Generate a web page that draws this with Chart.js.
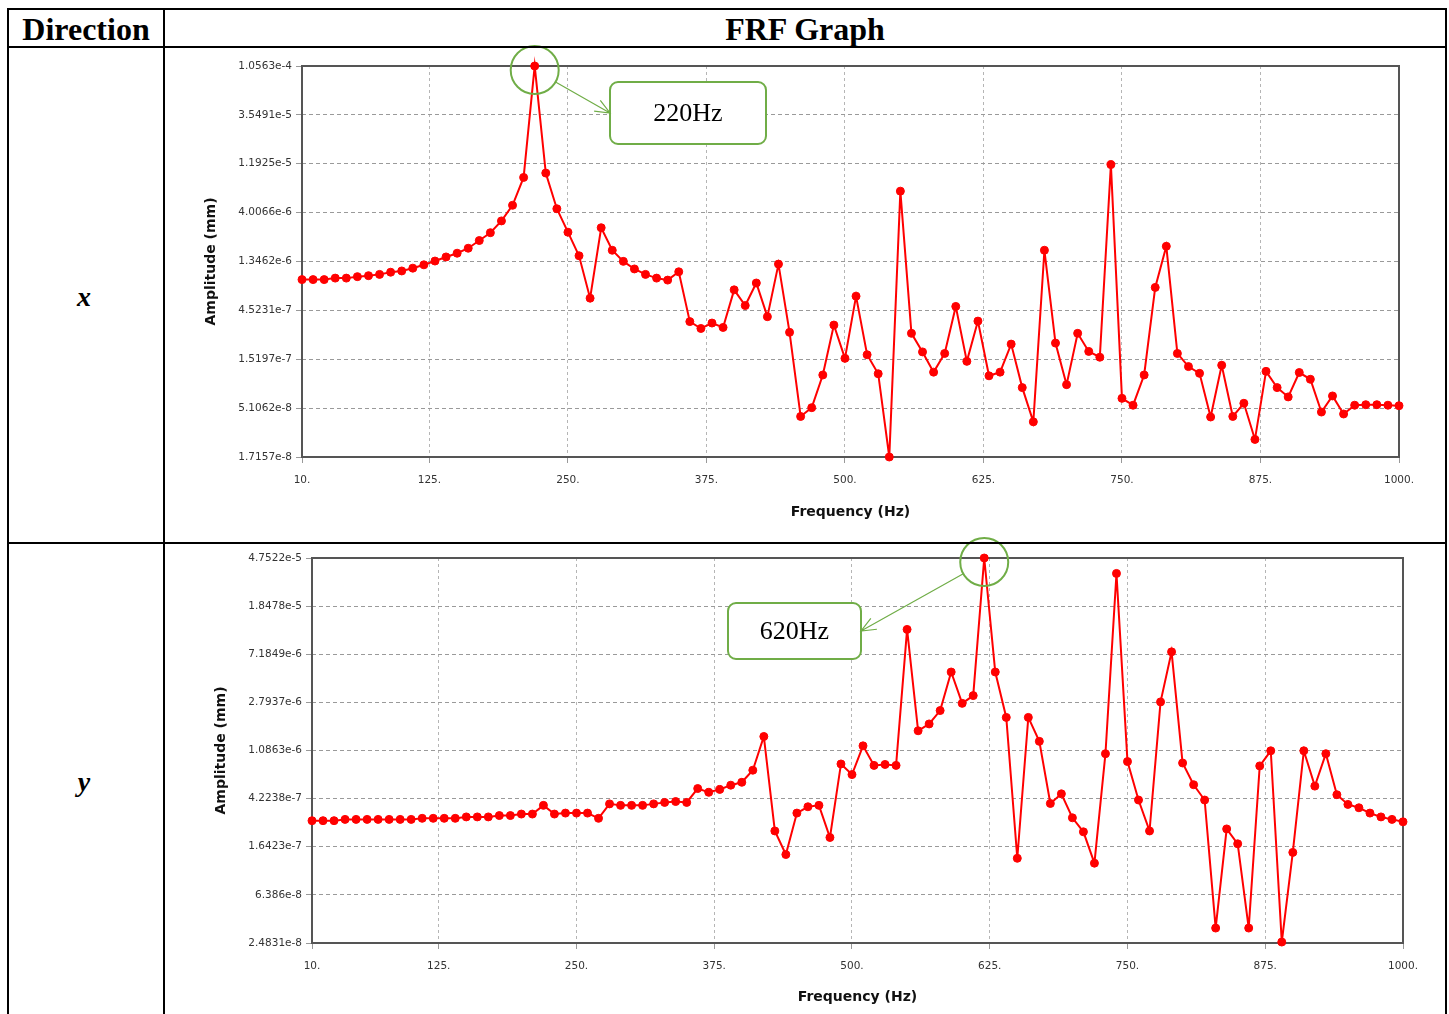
<!DOCTYPE html>
<html>
<head>
<meta charset="utf-8">
<title>FRF Graph</title>
<script src="https://cdn.jsdelivr.net/npm/chart.js@4.4.0/dist/chart.umd.min.js"></script>
<style>
  body { margin: 0; background: #fff; width: 1449px; height: 1014px; overflow: hidden; position: relative; font-family: "Liberation Serif", "Times New Roman", serif; }
  .line { position: absolute; background: #000; z-index: 2; }
  .hdr { position: absolute; top: 10px; height: 36px; line-height: 38px; font-weight: bold; font-size: 32px; text-align: center; }
  .dir { position: absolute; left: 7px; width: 154px; font-weight: bold; font-style: italic; font-size: 28px; text-align: center; line-height: 30px; }
  canvas { position: absolute; z-index: 1; }
</style>
</head>
<body>
<!-- table lines -->
<div class="line" style="left:7px;top:8px;width:1440px;height:2px"></div>
<div class="line" style="left:7px;top:46px;width:1440px;height:2px"></div>
<div class="line" style="left:7px;top:542px;width:1440px;height:2px"></div>
<div class="line" style="left:7px;top:8px;width:2px;height:1006px"></div>
<div class="line" style="left:163px;top:8px;width:2px;height:1006px"></div>
<div class="line" style="left:1445px;top:8px;width:2px;height:1006px"></div>

<div class="hdr" style="left:9px;width:154px">Direction</div>
<div class="hdr" style="left:165px;width:1280px">FRF Graph</div>
<div class="dir" style="top:282px">x</div>
<div class="dir" style="top:767px">y</div>

<canvas id="chartX" width="1279" height="501" style="left:166px;top:40px"></canvas>
<canvas id="chartY" width="1279" height="477" style="left:166px;top:537px"></canvas>

<script>
// frequency points (Hz)
const freq = [10, 20, 30, 40, 50, 60, 70, 80, 90, 100,
  110, 120, 130, 140, 150, 160, 170, 180, 190, 200,
  210, 220, 230, 240, 250, 260, 270, 280, 290, 300,
  310, 320, 330, 340, 350, 360, 370, 380, 390, 400,
  410, 420, 430, 440, 450, 460, 470, 480, 490, 500,
  510, 520, 530, 540, 550, 560, 570, 580, 590, 600,
  610, 620, 630, 640, 650, 660, 670, 680, 690, 700,
  710, 720, 730, 740, 750, 760, 770, 780, 790, 800,
  810, 820, 830, 840, 850, 860, 870, 880, 890, 900,
  910, 920, 930, 940, 950, 960, 970, 980, 990, 1000];

// amplitude (mm), x direction
const ampX = [8.99e-7, 8.99e-7, 8.99e-7, 9.29e-7, 9.29e-7, 9.60e-7, 9.81e-7, 1.01e-6, 1.06e-6, 1.09e-6,
  1.16e-6, 1.25e-6, 1.36e-6, 1.49e-6, 1.62e-6, 1.81e-6, 2.15e-6, 2.56e-6, 3.33e-6, 4.72e-6,
  8.79e-6, 1.0563e-4, 9.69e-6, 4.37e-6, 2.59e-6, 1.53e-6, 5.94e-7, 2.86e-6, 1.73e-6, 1.35e-6,
  1.14e-6, 1.01e-6, 9.29e-7, 8.89e-7, 1.07e-6, 3.52e-7, 3.02e-7, 3.41e-7, 3.09e-7, 7.15e-7,
  5.04e-7, 8.33e-7, 3.93e-7, 1.27e-6, 2.77e-7, 4.24e-8, 5.16e-8, 1.07e-7, 3.26e-7, 1.55e-7,
  6.21e-7, 1.68e-7, 1.10e-7, 1.7157e-8, 6.47e-6, 2.71e-7, 1.79e-7, 1.14e-7, 1.73e-7, 4.94e-7,
  1.45e-7, 3.56e-7, 1.05e-7, 1.14e-7, 2.13e-7, 8.07e-8, 3.76e-8, 1.73e-6, 2.18e-7, 8.62e-8,
  2.71e-7, 1.81e-7, 1.59e-7, 1.17e-5, 6.35e-8, 5.45e-8, 1.07e-7, 7.55e-7, 1.89e-6, 1.73e-7,
  1.29e-7, 1.11e-7, 4.19e-8, 1.33e-7, 4.24e-8, 5.69e-8, 2.54e-8, 1.16e-7, 8.07e-8, 6.56e-8,
  1.13e-7, 9.72e-8, 4.68e-8, 6.70e-8, 4.48e-8, 5.45e-8, 5.51e-8, 5.51e-8, 5.45e-8, 5.39e-8];

// amplitude (mm), y direction
const ampY = [2.74e-7, 2.74e-7, 2.74e-7, 2.81e-7, 2.81e-7, 2.81e-7, 2.81e-7, 2.81e-7, 2.81e-7, 2.81e-7,
  2.87e-7, 2.87e-7, 2.87e-7, 2.87e-7, 2.95e-7, 2.95e-7, 2.95e-7, 3.03e-7, 3.03e-7, 3.12e-7,
  3.12e-7, 3.70e-7, 3.12e-7, 3.18e-7, 3.18e-7, 3.18e-7, 2.87e-7, 3.81e-7, 3.70e-7, 3.70e-7,
  3.70e-7, 3.81e-7, 3.92e-7, 3.99e-7, 3.92e-7, 5.15e-7, 4.78e-7, 5.06e-7, 5.50e-7, 5.82e-7,
  7.38e-7, 1.43e-6, 2.24e-7, 1.41e-7, 3.18e-7, 3.60e-7, 3.70e-7, 1.97e-7, 8.34e-7, 6.77e-7,
  1.19e-6, 8.11e-7, 8.26e-7, 8.11e-7, 1.17e-5, 1.60e-6, 1.83e-6, 2.38e-6, 5.07e-6, 2.74e-6,
  3.19e-6, 4.7522e-5, 5.07e-6, 2.08e-6, 1.31e-7, 2.08e-6, 1.30e-6, 3.84e-7, 4.64e-7, 2.90e-7,
  2.20e-7, 1.19e-7, 1.02e-6, 3.51e-5, 8.74e-7, 4.11e-7, 2.24e-7, 2.82e-6, 7.53e-6, 8.50e-7,
  5.55e-7, 4.11e-7, 3.33e-8, 2.33e-7, 1.74e-7, 3.33e-8, 8.03e-7, 1.08e-6, 2.53e-8, 1.47e-7,
  1.08e-6, 5.40e-7, 1.02e-6, 4.56e-7, 3.77e-7, 3.53e-7, 3.18e-7, 2.95e-7, 2.81e-7, 2.68e-7];

const freqTicks = [10, 125, 250, 375, 500, 625, 750, 875, 1000];
const yTicksX = [1.7157e-8, 5.1062e-8, 1.5197e-7, 4.5231e-7, 1.3462e-6, 4.0066e-6, 1.1925e-5, 3.5491e-5, 1.0563e-4];
const yLabelsX = ['1.7157e-8', '5.1062e-8', '1.5197e-7', '4.5231e-7', '1.3462e-6', '4.0066e-6', '1.1925e-5', '3.5491e-5', '1.0563e-4'];
const yTicksY = [2.4831e-8, 6.386e-8, 1.6423e-7, 4.2238e-7, 1.0863e-6, 2.7937e-6, 7.1849e-6, 1.8478e-5, 4.7522e-5];
const yLabelsY = ['2.4831e-8', '6.386e-8', '1.6423e-7', '4.2238e-7', '1.0863e-6', '2.7937e-6', '7.1849e-6', '1.8478e-5', '4.7522e-5'];

const GREEN = '#70ad47';

// plot frame + the green callout (circle, arrow, label box)
const frfPlugin = {
  id: 'frf',
  beforeDatasetsDraw(chart) {
    const { ctx, chartArea: a } = chart;
    ctx.save();
    ctx.strokeStyle = '#555';
    ctx.lineWidth = 2;
    ctx.strokeRect(a.left, a.top, a.right - a.left, a.bottom - a.top);
    ctx.restore();
  },
  afterDraw(chart, args, opts) {
    if (!opts || !opts.box) return;
    const ctx = chart.ctx;
    const pt = chart.getDatasetMeta(0).data[opts.index];
    const cx = pt.x, cy = pt.y + 4, r = 24;
    const b = opts.box;
    ctx.save();
    ctx.strokeStyle = GREEN;
    ctx.lineWidth = 2;
    ctx.beginPath();
    ctx.arc(cx, cy, r, 0, Math.PI * 2);
    ctx.stroke();

    // rounded label box
    ctx.beginPath();
    ctx.roundRect(b.x, b.y, b.w, b.h, 8);
    ctx.fillStyle = '#fff';
    ctx.fill();
    ctx.stroke();
    ctx.fillStyle = '#000';
    ctx.font = '26px "Liberation Serif", serif';
    ctx.textAlign = 'center';
    ctx.textBaseline = 'middle';
    ctx.fillText(opts.text, b.x + b.w / 2, b.y + b.h / 2 + 1);

    // arrow from circle to box
    const tx = b.x > cx ? b.x : b.x + b.w;
    const ty = b.y + b.h / 2;
    const ang = Math.atan2(ty - cy, tx - cx);
    const sx = cx + r * Math.cos(ang), sy = cy + r * Math.sin(ang);
    ctx.lineWidth = 1.2;
    ctx.beginPath();
    ctx.moveTo(sx, sy);
    ctx.lineTo(tx, ty);
    const hl = 16, hw = 0.4;
    ctx.moveTo(tx - hl * Math.cos(ang - hw), ty - hl * Math.sin(ang - hw));
    ctx.lineTo(tx, ty);
    ctx.lineTo(tx - hl * Math.cos(ang + hw), ty - hl * Math.sin(ang + hw));
    ctx.stroke();
    ctx.restore();
  }
};

function makeChart(id, amps, yTicks, yLabels, lay, callout) {
  const tickFont = { family: 'DejaVu Sans', size: 10.5 };
  const titleFont = { family: 'DejaVu Sans', size: 14, weight: 'bold' };
  return new Chart(document.getElementById(id), {
    type: 'line',
    data: {
      datasets: [{
        data: freq.map((f, i) => ({ x: f, y: amps[i] })),
        borderColor: '#ff0000',
        backgroundColor: '#ff0000',
        borderWidth: 2,
        pointRadius: 4,
        pointBorderWidth: 1,
        tension: 0,
        clip: false,
      }],
    },
    options: {
      responsive: false,
      animation: false,
      layout: { padding: lay.padding },
      plugins: {
        legend: { display: false },
        tooltip: { enabled: false },
        frf: callout,
      },
      scales: {
        x: {
          type: 'linear',
          min: 10,
          max: 1000,
          afterBuildTicks: (scale) => { scale.ticks = freqTicks.map((v) => ({ value: v })); },
          afterFit: (scale) => { scale.height = lay.xHeight; },
          ticks: {
            autoSkip: false,
            maxRotation: 0,
            padding: 11,
            color: '#333',
            font: tickFont,
            callback: (v) => v + '.',
          },
          grid: { color: '#b5b5b5', tickColor: '#999', tickLength: 6, lineWidth: 1 },
          border: { display: false, dash: [3, 3] },
          title: { display: true, text: 'Frequency (Hz)', color: '#111', font: titleFont },
        },
        y: {
          type: 'logarithmic',
          min: yTicks[0],
          max: yTicks[yTicks.length - 1],
          afterBuildTicks: (scale) => { scale.ticks = yTicks.map((v) => ({ value: v })); },
          afterFit: (scale) => { scale.width = lay.yWidth; },
          ticks: {
            autoSkip: false,
            padding: 4,
            color: '#333',
            font: tickFont,
            callback: (v, i) => yLabels[i],
          },
          grid: { color: '#9a9a9a', tickColor: '#999', tickLength: 6, lineWidth: 1 },
          border: { display: false, dash: [4, 3] },
          title: { display: true, text: 'Amplitude (mm)', color: '#111', font: titleFont },
        },
      },
    },
    plugins: [frfPlugin],
  });
}

makeChart('chartX', ampX, yTicksX, yLabelsX,
  { padding: { left: 33, right: 46, top: 26, bottom: 16 }, yWidth: 103, xHeight: 68 },
  { index: 21, text: '220Hz', box: { x: 444, y: 42, w: 156, h: 62 } });

makeChart('chartY', ampY, yTicksY, yLabelsY,
  { padding: { left: 43, right: 42, top: 21, bottom: 4 }, yWidth: 103, xHeight: 67 },
  { index: 61, text: '620Hz', box: { x: 562, y: 66, w: 133, h: 56 } });
</script>
</body>
</html>
